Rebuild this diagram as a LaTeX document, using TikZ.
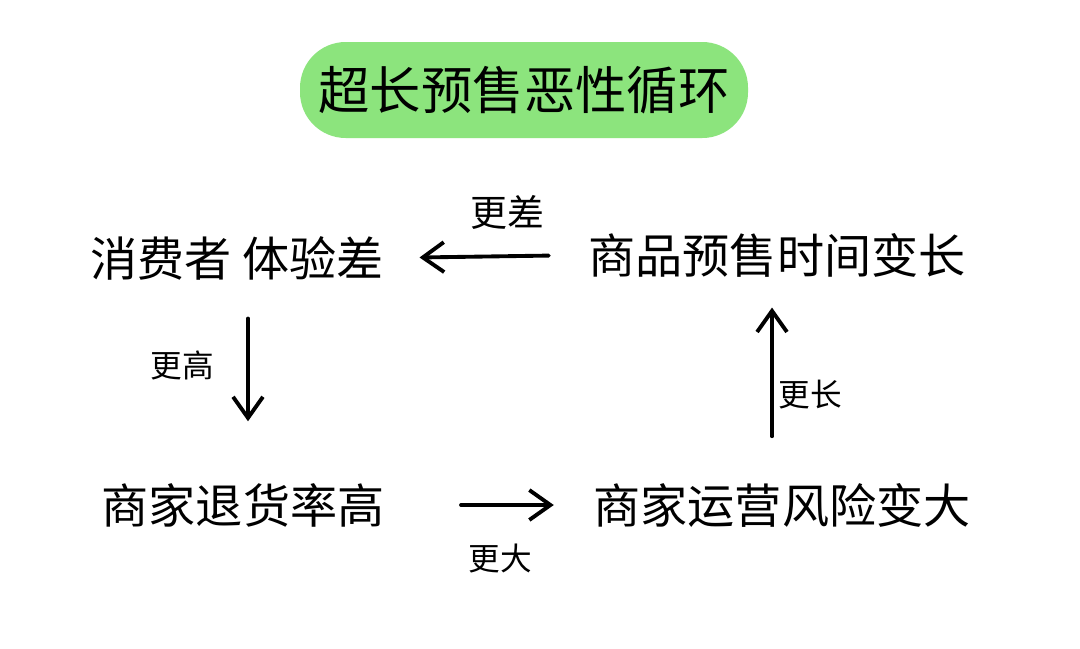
\documentclass[tikz,border=0pt]{standalone}
\usepackage{fontspec}
\newfontfamily\cjk{Noto Sans CJK SC}
\usetikzlibrary{arrows.meta,calc}
\definecolor{blobgreen}{RGB}{140,228,125}
\tikzset{
  stmt/.style={font=\cjk\fontsize{13.4}{15}\selectfont, inner sep=0pt, text=black},
  lbl/.style={font=\cjk\fontsize{9}{11}\selectfont, inner sep=0pt, text=black},
  ttl/.style={font=\cjk\fontsize{14.6}{17}\selectfont, inner sep=0pt, text=black},
  arr/.style={line width=1.1pt, line cap=round, -{Straight Barb[length=6pt,width=8.5pt,line width=1.1pt]}},
  blob/.style={fill=blobgreen, draw=none, rounded corners=13pt}
}
\begin{document}
\begin{tikzpicture}[x=0.01cm,y=-0.01cm]
\useasboundingbox[fill=white] (0,0) rectangle (1080,648);
% title
\fill[blob] (300,42) rectangle (748,138);
\node[ttl] (title) at (524,90) {超长预售恶性循环};
% statements
\node[stmt] (p1) at (237,258) {消费者 体验差};
\node[stmt] (p2) at (777,255) {商品预售时间变长};
\node[stmt] (p3) at (243,505) {商家退货率高};
\node[stmt] (p4) at (782,505) {商家运营风险变大};
% connectors
\draw[arr, shorten <=11.1pt, shorten >=10pt] (p2.west) -- (p1.east);
\coordinate (dtop) at ($(p1.south)+(11,0)$);
\draw[arr, shorten <=10.8pt, shorten >=17.4pt] (dtop) -- (dtop |- p3.north);
\draw[arr, shorten <=21.6pt, shorten >=11.1pt] (p3.east) -- (p4.west);
\coordinate (ubot) at ($(p4.north)+(-10,0)$);
\draw[arr, shorten <=13.1pt, shorten >=8.5pt] (ubot) -- (ubot |- p2.south);
% labels
\node[lbl,font=\cjk\fontsize{10.5}{12}\selectfont] (l1) at (507,212) {更差};
\node[lbl] (l2) at (182,365) {更高};
\node[lbl] (l3) at (500,558) {更大};
\node[lbl] (l4) at (810,395) {更长};
\end{tikzpicture}
\end{document}
